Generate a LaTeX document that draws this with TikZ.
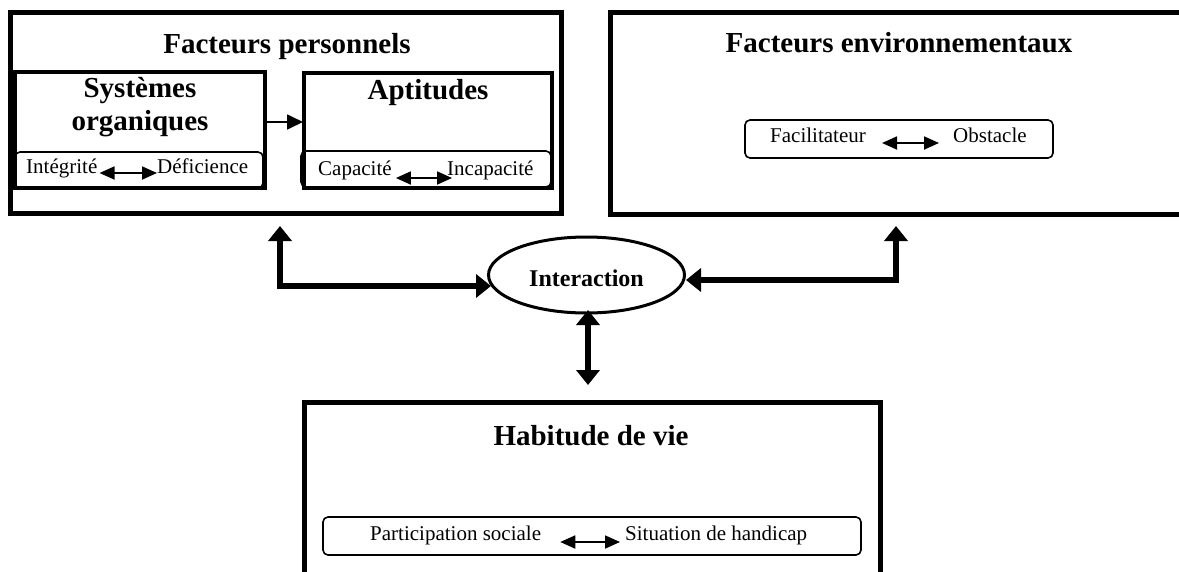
\documentclass[tikz,border=0pt]{standalone}
\usepackage{fontspec}
\setmainfont{Liberation Serif}
\usetikzlibrary{arrows.meta,shapes.geometric}
\begin{document}
\begin{tikzpicture}[x=1pt,y=-1pt,
  outerbox/.style={draw, rectangle, line width=5pt, inner sep=0pt, outer sep=0pt},
  innerbox/.style={draw, rectangle, line width=4pt, inner sep=0pt, outer sep=0pt},
  pill/.style={draw, rectangle, line width=1.6pt, rounded corners=5pt, inner sep=0pt, outer sep=0pt},
  title/.style={font={\fontsize{29pt}{33pt}\selectfont\bfseries}, inner sep=0pt, anchor=base},
  small/.style={font={\fontsize{21pt}{25pt}\selectfont}, inner sep=0pt, anchor=base west},
  bigdbl/.style={line width=6.5pt, line join=miter, {Triangle[length=15pt,width=23pt]}-{Triangle[length=15pt,width=23pt]}},
  smalldbl/.style={line width=1.8pt, {Triangle[length=15pt,width=13pt]}-{Triangle[length=15pt,width=13pt]}},
  smallarrow/.style={line width=1.8pt, -{Triangle[length=16pt,width=15pt]}}]
\useasboundingbox (0,0) rectangle (1179,571);
\fill[white] (0,0) rectangle (1179,571);

% Facteurs personnels
\node[outerbox, minimum width=551pt, minimum height=201pt] (pers) at (286,113) {};
\node[title] (tpers) at (287,53) {Facteurs personnels};
\node[innerbox, minimum width=250pt, minimum height=116pt] (sysbox) at (140,130) {};
\node[pill, minimum width=248pt, minimum height=36pt] (sysin) at (139,170) {};
\node[title] (tsys1) at (140,97) {Systèmes};
\node[title] (tsys2) at (140,130) {organiques};
\node[small] (integ) at (26,173) {Intégrité};
\node[small] (defic) at (157,173) {Déficience};
\draw[smalldbl] ([xshift=2pt]integ.base east) -- (defic.base west);

\node[innerbox, minimum width=248pt, minimum height=115pt] (aptbox) at (428,130) {};
\node[pill, minimum width=250pt, minimum height=36pt] (aptin) at (426,169) {};
\node[title] (tapt) at (428,99) {Aptitudes};
\node[small] (capa) at (318,175) {Capacité};
\node[small] (incap) at (447,175) {Incapacité};
\draw[smalldbl] ([xshift=4pt,yshift=-3pt]capa.base east) -- ([xshift=5pt,yshift=-3pt]incap.base west);
\draw[smallarrow, shorten >=1pt] ([yshift=8pt]sysbox.east) -- ([yshift=8pt]aptbox.west);

% Facteurs environnementaux
\node[outerbox, minimum width=578pt, minimum height=202pt] (env) at (899,113.5) {};
\node[title] (tenv) at (899,52) {Facteurs environnementaux};
\node[pill, minimum width=308pt, minimum height=38pt] (facbox) at (899,139) {};
\node[small] (facil) at (770,142) {Facilitateur};
\node[small] (obst) at (953,142) {Obstacle};
\draw[smalldbl] ([xshift=16pt,yshift=-1pt]facil.base east) -- ([xshift=-14pt,yshift=-1pt]obst.base west);

% Interaction
\node[draw, ellipse, line width=3pt, minimum width=196pt, minimum height=76pt, inner sep=0pt] (inter) at (586.5,275) {};
\node[font={\fontsize{24pt}{28pt}\selectfont\bfseries}, inner sep=0pt, anchor=base] (tinter) at (586.5,286) {Interaction};

% Habitude de vie
\node[outerbox, minimum width=576pt, minimum height=208pt] (hab) at (592,506) {};
\node[title] (thab) at (591,445) {Habitude de vie};
\node[pill, minimum width=538pt, minimum height=38pt] (partbox) at (592,536) {};
\node[small] (part) at (370,540) {Participation sociale};
\node[small] (situ) at (625,540) {Situation de handicap};
\draw[smalldbl] ([xshift=19pt,yshift=-2pt]part.base east) -- ([xshift=-5pt,yshift=-2pt]situ.base west);

% connectors
\coordinate (lup) at (280,226);
\coordinate (lend) at (491,286);
\coordinate (rup) at (896,226);
\coordinate (rend) at (686,280);
\coordinate (vtop) at (588,310);
\coordinate (vbot) at (588,385);
\draw[bigdbl] (lup) |- (lend);
\draw[bigdbl] (rup) |- (rend);
\draw[bigdbl] (vtop) -- (vbot);
\end{tikzpicture}
\end{document}
